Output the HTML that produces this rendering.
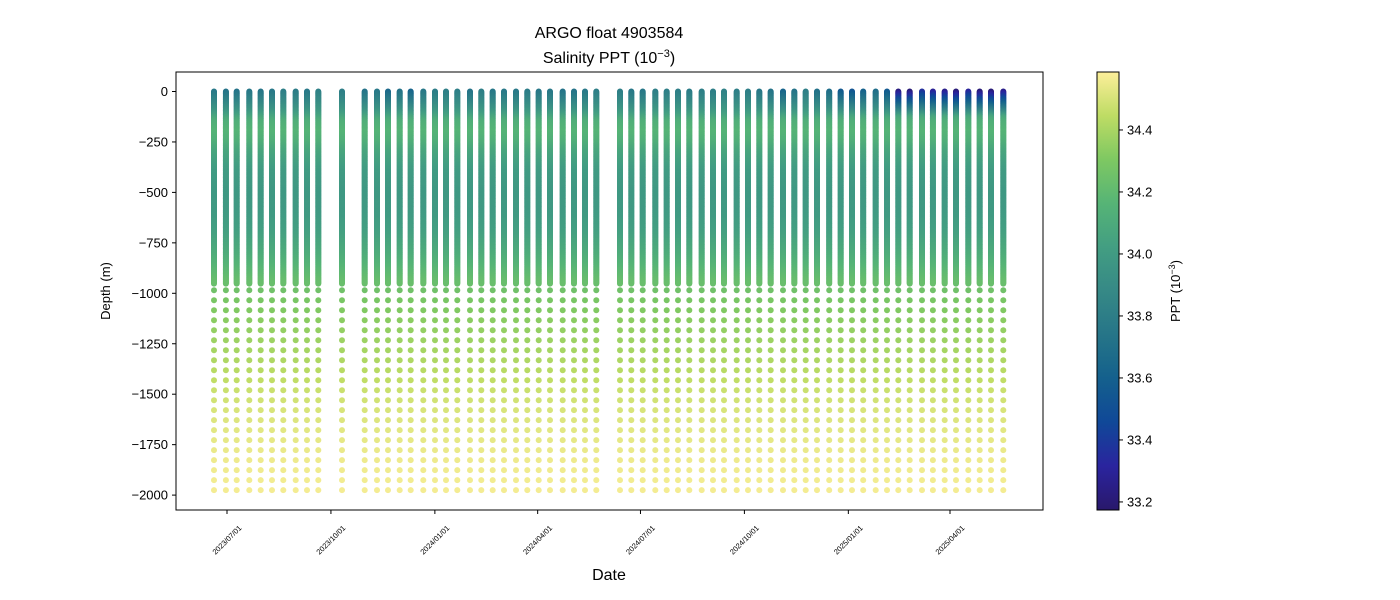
<!DOCTYPE html>
<html><head><meta charset="utf-8"><style>
body{margin:0;background:#fff;}
svg{display:block;font-family:"Liberation Sans","DejaVu Sans",sans-serif;}
</style></head><body>
<svg id="chart" width="1400" height="600" viewBox="0 0 1400 600">
<rect x="0" y="0" width="1400" height="600" fill="#fff"/>
<text x="609" y="38" font-size="16" text-anchor="middle">ARGO float 4903584</text>
<text x="609" y="63" font-size="16" text-anchor="middle">Salinity PPT (10<tspan dy="-6" font-size="11">−3</tspan><tspan dy="6">)</tspan></text>
<g id="plot"></g>
<g id="yaxis"></g>
<g id="xaxis"></g>
<text x="110" y="291" font-size="13" text-anchor="middle" transform="rotate(-90 110 291)">Depth (m)</text>
<text x="609" y="580" font-size="16" text-anchor="middle">Date</text>
<defs><linearGradient id="cbgrad" x1="0" y1="1" x2="0" y2="0"></linearGradient></defs>
<g id="colorbar"></g>
<text x="1180" y="291" font-size="13" text-anchor="middle" transform="rotate(-90 1180 291)">PPT (10<tspan dy="-5" font-size="9">−3</tspan><tspan dy="5">)</tspan></text>
</svg>
<script>
// days since 2023-07-01 for each profile
const profileDays = [-11.5,-1,8.6,19.7,29.8,39.8,49.8,60.8,70.8,80.8,101.8,121.9,132.8,142.5,152.9,162.6,173.8,184.1,193.9,203.9,215.1,225.1,235.2,245.2,255.8,265.8,275.9,285.9,297.2,307.2,316.9,326.9,347.9,357.9,368,379.1,389.2,399.2,409.2,420.2,430.2,439.9,451.2,461.2,471.2,481.3,492.2,502.2,512.3,522.3,533.1,543.2,553.2,563.2,574.2,584.2,594.2,604.3,615.2,624.9,635.3,645.3,656.2,666.3,676.3,687.2];
const surfaceSal = [33.75,33.72,33.72,33.75,33.73,33.75,33.8,33.78,33.75,33.82,33.8,33.72,33.75,33.65,33.72,33.62,33.75,33.78,33.8,33.8,33.72,33.8,33.75,33.75,33.75,33.78,33.75,33.75,33.72,33.72,33.75,33.8,33.8,33.75,33.75,33.8,33.8,33.8,33.78,33.8,33.8,33.82,33.8,33.8,33.75,33.72,33.62,33.72,33.8,33.7,33.68,33.55,33.52,33.6,33.68,33.55,33.22,33.2,33.35,33.28,33.25,33.2,33.3,33.2,33.2,33.25];
const baseDepths = [0,50,100,150,200,250,300,400,500,600,700,800,900,1000,1100,1200,1300,1400,1500,1600,1700,1800,1900,2000];
const baseSal = [33.8,33.88,33.98,34.12,34.16,34.13,34.07,34.0,33.98,33.99,34.03,34.1,34.19,34.27,34.32,34.36,34.4,34.44,34.48,34.51,34.53,34.55,34.56,34.57];
const yTicks = [0,-250,-500,-750,-1000,-1250,-1500,-1750,-2000];
const xTickLabels = ["2023/07/01","2023/10/01","2024/01/01","2024/04/01","2024/07/01","2024/10/01","2025/01/01","2025/04/01"];
const xTickDays = [0,92,184,275,366,458,550,640];
const cbTicks = [33.2,33.4,33.6,33.8,34.0,34.2,34.4];
const vmin = 33.174, vmax = 34.587;

const NS="http://www.w3.org/2000/svg";
const L=176,R=1043,T=72,B=510;
const xs = d => 227 + d*1.1297;
const ys = v => 91.5 + (-v)*0.2018;
const stops=[[0,[41,24,107]],[0.1,[42,36,158]],[0.2,[16,72,152]],[0.3,[20,96,141]],[0.4,[38,117,136]],[0.5,[54,137,134]],[0.6,[67,158,130]],[0.7,[86,180,118]],[0.8,[126,200,98]],[0.9,[190,220,100]],[1,[253,239,154]]];
function cmap(v){let t=(v-vmin)/(vmax-vmin);t=Math.max(0,Math.min(1,t));
 for(let i=1;i<stops.length;i++){if(t<=stops[i][0]){const a=stops[i-1],b=stops[i];const f=(t-a[0])/(b[0]-a[0]);
 return `rgb(${a[1].map((c,k)=>Math.round(c+(b[1][k]-c)*f)).join(',')})`;}} return 'rgb(253,239,154)';}
function baseAt(d){for(let i=1;i<baseDepths.length;i++){if(d<=baseDepths[i]){const f=(d-baseDepths[i-1])/(baseDepths[i]-baseDepths[i-1]);return baseSal[i-1]+(baseSal[i]-baseSal[i-1])*f;}}return baseSal[baseSal.length-1];}
function mk(tag,attrs,parent){const e=document.createElementNS(NS,tag);for(const k in attrs)e.setAttribute(k,attrs[k]);parent.appendChild(e);return e;}

const plot=document.getElementById('plot');
const depths=[];for(let d=0;d<=955;d+=4)depths.push(d);for(let d=985;d<=1975;d+=49.5)depths.push(d);
profileDays.forEach((day,pi)=>{
 const g=mk('g',{},plot);
 
 
 const x=xs(day);const anom=surfaceSal[pi]-baseSal[0];
 depths.forEach(d=>{const w=Math.max(0,1-d/130);const s=baseAt(d)+anom*w;
  mk('circle',{cx:x.toFixed(1),cy:ys(-d).toFixed(1),r:3,fill:cmap(s)},g);
 });
});
mk('rect',{x:L,y:T,width:R-L,height:B-T,fill:'none',stroke:'#000','stroke-width':1},plot);

const ya=document.getElementById('yaxis');
yTicks.forEach(v=>{const y=ys(v);
 mk('line',{x1:L-4,x2:L,y1:y,y2:y,stroke:'#000'},ya);
 const t=mk('text',{x:L-8,y:y+4.5,'font-size':13,'text-anchor':'end'},ya);t.textContent=(v<0?'−':'')+Math.abs(v);
 
 
});
const xa=document.getElementById('xaxis');
xTickDays.forEach((d,i)=>{const x=xs(d);
 mk('line',{x1:x,x2:x,y1:B,y2:B+4,stroke:'#000'},xa);
 const cx=x, cy=B+30;
 const t=mk('text',{x:cx,y:cy+2.5,'font-size':7.5,'text-anchor':'middle',transform:`rotate(-45 ${cx} ${cy})`},xa);t.textContent=xTickLabels[i];
 
 
});
const grad=document.getElementById('cbgrad');
for(let i=0;i<=20;i++){const v=vmin+(vmax-vmin)*i/20;mk('stop',{offset:(i*5)+'%','stop-color':cmap(v)},grad);}
const cb=document.getElementById('colorbar');
mk('rect',{x:1097,y:T,width:22,height:B-T,fill:'url(#cbgrad)',stroke:'#000','stroke-width':1},cb);
const cy=v=>B-(v-vmin)/(vmax-vmin)*(B-T);
cbTicks.forEach(v=>{const y=cy(v);
 mk('line',{x1:1119,x2:1123,y1:y,y2:y,stroke:'#000'},cb);
 const t=mk('text',{x:1127,y:y+4.5,'font-size':13},cb);t.textContent=v.toFixed(1);
 
 
});
</script>
</body></html>
